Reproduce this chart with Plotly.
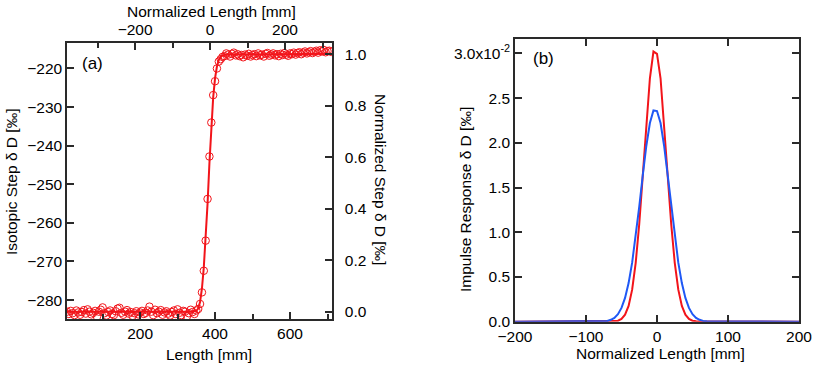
import plotly.graph_objects as go

# %% Data
# (a) isotopic step: measured points and fitted step
length_mm = [
    5, 10, 15, 20, 25, 30, 35, 40, 45, 50, 55, 60, 65, 70, 75, 80, 85, 90, 95, 100,
    105, 110, 115, 120, 125, 130, 135, 140, 145, 150, 155, 160, 165, 170, 175, 180, 185, 190, 195, 200,
    205, 210, 215, 220, 225, 230, 235, 240, 245, 250, 255, 260, 265, 270, 275, 280, 285, 290, 295, 300,
    305, 310, 315, 320, 325, 330, 335, 340, 345, 350, 355, 360, 365, 370, 375, 380, 385, 390, 395, 400,
    405, 410, 415, 420, 425, 430, 435, 440, 445, 450, 455, 460, 465, 470, 475, 480, 485, 490, 495, 500,
    505, 510, 515, 520, 525, 530, 535, 540, 545, 550, 555, 560, 565, 570, 575, 580, 585, 590, 595, 600,
    605, 610, 615, 620, 625, 630, 635, 640, 645, 650, 655, 660, 665, 670, 675, 680, 685, 690, 695, 700,
    705, 710,
]
step_dD = [
    -283.0, -283.6, -282.8, -283.4, -283.9, -282.7, -283.2, -283.8, -283.1, -282.6,
    -283.5, -282.4, -283.0, -283.7, -283.3, -282.8, -284.3, -283.0, -282.5, -281.9,
    -283.4, -284.0, -283.1, -282.7, -283.6, -283.9, -282.9, -282.2, -282.0, -283.3,
    -283.8, -283.0, -282.6, -283.5, -283.1, -284.1, -283.4, -282.9, -283.7, -283.2,
    -282.8, -283.6, -283.3, -282.7, -281.7, -283.0, -283.9, -282.5, -283.4, -283.0,
    -282.6, -283.8, -283.2, -282.9, -283.5, -284.0, -283.1, -282.7, -283.6, -282.4,
    -283.3, -283.9, -282.8, -283.0, -284.2, -283.4, -282.5, -283.1, -283.6, -282.7,
    -282.3, -281.0, -278.0, -272.4, -264.6, -253.8, -242.8, -234.0, -226.9, -223.3,
    -220.0, -218.2, -217.6, -217.0, -216.8, -216.1,
    -216.4, -216.9, -216.2, -215.9, -216.6, -216.3, -216.8, -216.5, -217.1, -216.4,
    -216.7, -216.2, -216.9, -216.5, -216.3, -216.8, -216.1, -216.6, -216.4, -216.9,
    -216.2, -216.0, -216.7, -216.4, -216.1, -216.6, -216.3, -216.8, -216.2, -216.5,
    -216.0, -216.4, -216.7, -216.1, -216.3, -215.9, -216.4, -216.0, -215.8, -216.3,
    -215.9, -215.6, -216.1, -215.8, -215.5, -216.0, -215.7, -215.4, -215.9, -215.3,
    -215.6, -215.2, -215.8, -215.5, -215.4, -215.7,
]
fit_length_mm = [5, 340, 350, 355, 360, 365, 370, 375, 380, 385, 390, 395, 400,
                 405, 410, 415, 420, 430, 712]
fit_dD = [-283.0, -283.0, -282.8, -282.2, -280.5, -277.0, -271.5, -264.5, -255.0,
          -244.5, -235.0, -227.5, -222.5, -219.5, -217.8, -217.0, -216.6, -216.4, -216.2]

# (b) impulse responses
red_norm_len = [-200, -60, -55, -50, -45, -40, -35, -30, -25, -20, -15, -10, -5,
                0, 5, 10, 15, 20, 25, 30, 35, 40, 45, 50, 55, 200]
red_impulse = [0.0, 0.00004, 0.00011, 0.00031, 0.00078, 0.00176, 0.00358, 0.00658,
               0.01092, 0.01639, 0.02222, 0.02721, 0.03020, 0.02995, 0.02721, 0.02222,
               0.01639, 0.01092, 0.00658, 0.00358, 0.00176, 0.00078, 0.00031, 0.00011,
               0.00004, 0.0]
blue_norm_len = [-200, -75, -70, -65, -60, -55, -50, -45, -40, -35, -30, -25, -20,
                 -15, -10, -5, 0, 5, 10, 15, 20, 25, 30, 35, 40, 45, 50, 55, 60,
                 65, 70, 200]
blue_impulse = [0.0, 0.00004, 0.00009, 0.00021, 0.00043, 0.00084, 0.00154, 0.00266,
                0.00432, 0.00660, 0.00950, 0.01287, 0.01640, 0.01967, 0.02221, 0.02362,
                0.02355, 0.02221, 0.01967, 0.01640, 0.01287, 0.00950, 0.00660, 0.00432,
                0.00266, 0.00154, 0.00084, 0.00043, 0.00021, 0.00009, 0.00004, 0.0]
impulse_tickvals = [0, 0.005, 0.01, 0.015, 0.02, 0.025, 0.03]
impulse_ticktext = ['0.0', '0.5', '1.0', '1.5', '2.0', '2.5', '3.0x10<sup>-2</sup>']

# %% Figure
W, H = 817, 365
FONT = 'Liberation Sans, Arial, sans-serif'
FS = 15.5
RED = '#f2141a'
BLUE = '#1f58f5'
AX = '#2a2a2a'

def px_x(v):
    # page pixel -> paper fraction
    return v / W

def px_y(v):
    return 1 - v / H

fig = go.Figure()

fig.add_trace(go.Scatter(x=length_mm, y=step_dD, mode='markers',
                         marker=dict(symbol='circle-open', size=7.5, color=RED,
                                     line=dict(width=1, color=RED)),
                         xaxis='x', yaxis='y', showlegend=False))
fig.add_trace(go.Scatter(x=fit_length_mm, y=fit_dD, mode='lines',
                         line=dict(color=RED, width=2),
                         xaxis='x', yaxis='y', showlegend=False))
# empty traces so the top and right axes of panel (a) get drawn
fig.add_trace(go.Scatter(x=[None], y=[None], xaxis='x3', yaxis='y', showlegend=False))
fig.add_trace(go.Scatter(x=[None], y=[None], xaxis='x', yaxis='y3', showlegend=False))

fig.add_trace(go.Scatter(x=red_norm_len, y=red_impulse, mode='lines',
                         line=dict(color=RED, width=2),
                         xaxis='x2', yaxis='y2', showlegend=False))
fig.add_trace(go.Scatter(x=blue_norm_len, y=blue_impulse, mode='lines',
                         line=dict(color=BLUE, width=2),
                         xaxis='x2', yaxis='y2', showlegend=False))

axis_style = dict(showline=True, linecolor=AX, linewidth=1.5, ticks='inside',
                  ticklen=7, tickwidth=1.5, tickcolor=AX, showgrid=False,
                  zeroline=False, tickfont=dict(size=FS, color='black'),
                  automargin=False)
minor_ticks = dict(ticks='inside', dtick=100, ticklen=5, tickcolor=AX, tickwidth=1.5)

dom_ax = [px_x(67), px_x(332)]
dom_ay = [px_y(319), px_y(43)]
dom_bx = [px_x(515), px_x(799)]
dom_by = [px_y(321.7), px_y(39.3)]

fig.update_layout(
    width=W, height=H,
    margin=dict(l=0, r=0, t=0, b=0),
    paper_bgcolor='white', plot_bgcolor='white',
    font=dict(family=FONT, size=FS, color='black'),
    xaxis=dict(domain=dom_ax, anchor='y', range=[5, 712], tick0=0, dtick=200,
               minor=minor_ticks, **axis_style),
    xaxis3=dict(overlaying='x', side='top', anchor='y', range=[-381.7, 325.3],
                tick0=0, dtick=200, minor=minor_ticks, **axis_style),
    yaxis=dict(domain=dom_ay, anchor='x', range=[-284.9, -213.4], tick0=-280, dtick=10,
               ticklabelstandoff=0, **axis_style),
    yaxis3=dict(overlaying='y', side='right', anchor='x', range=[-0.0285, 1.0435],
                tick0=0, dtick=0.2, tickformat='.1f', ticklabelstandoff=8, **axis_style),
    xaxis2=dict(domain=dom_bx, anchor='y2', range=[-200, 200], tick0=0, dtick=100,
                mirror='ticks', **axis_style),
    yaxis2=dict(domain=dom_by, anchor='x2', range=[0, 0.03157],
                tickvals=impulse_tickvals, ticktext=impulse_ticktext,
                mirror='ticks', **axis_style),
)

def label(text, x, y, size=FS, angle=0):
    fig.add_annotation(text=text, x=px_x(x), y=px_y(y), xref='paper', yref='paper',
                       showarrow=False, textangle=angle, xanchor='center', yanchor='middle',
                       font=dict(family=FONT, size=size, color='black'))

label('Length [mm]', 209, 354)
label('Normalized Length [mm]', 211, 12)
label('Isotopic Step δ D [‰]', 12, 182, angle=-90)
label('Normalized Step δ D [‰]', 381, 179, angle=90)
label('(a)', 92, 63, size=17)
label('Impulse Response δ D [‰]', 465, 200, angle=-90)
label('Normalized Length [mm]', 660, 353)
label('(b)', 543, 58, size=17)

# drop the default 8px body margin so the figure sits at the page corner
fig.write_html("out.html", config={'displayModeBar': False},
               post_script="document.body.style.margin = '0';")
